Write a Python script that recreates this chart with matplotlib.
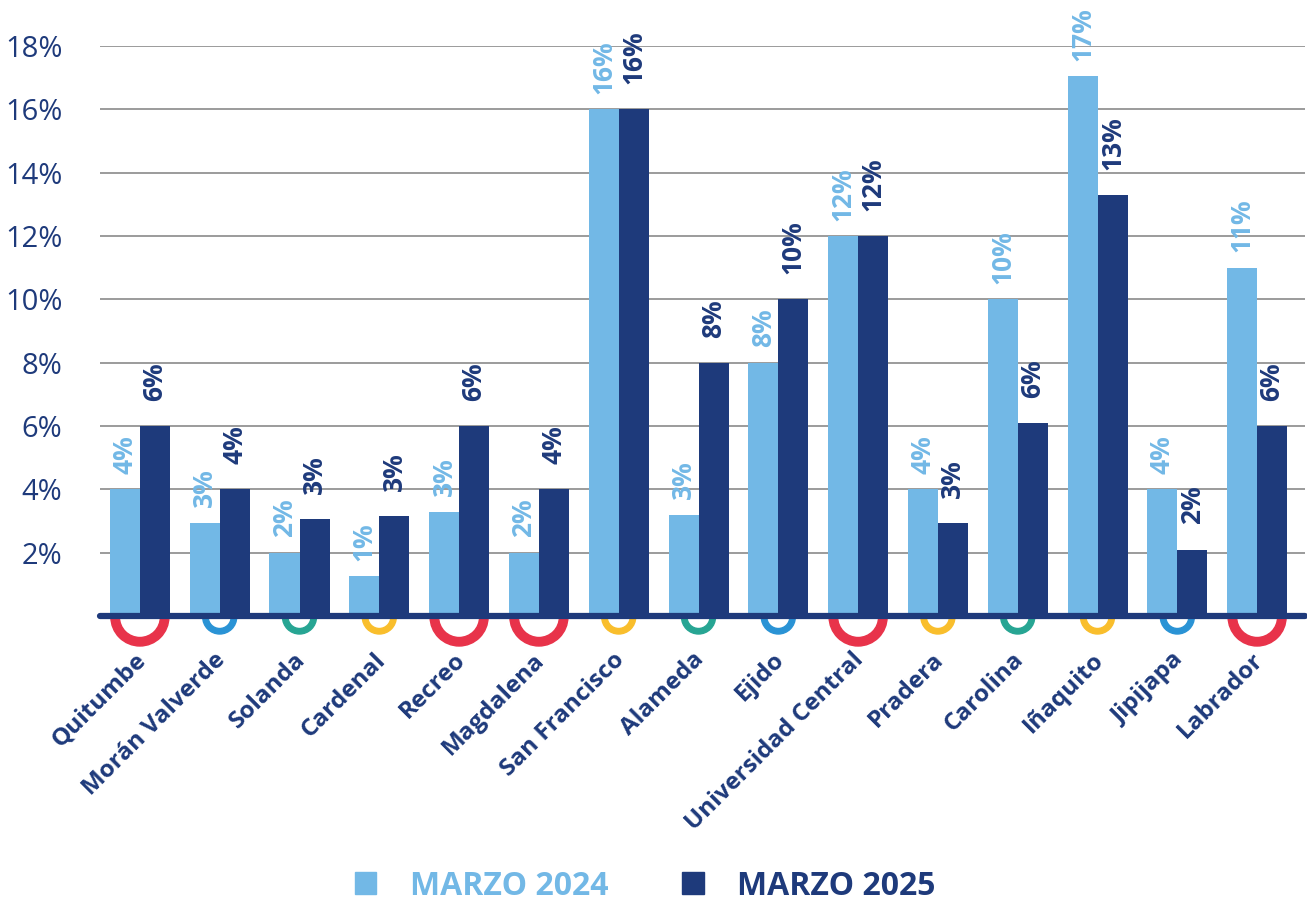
import matplotlib
matplotlib.use("Agg")
import matplotlib.pyplot as plt
import matplotlib.transforms as mtransforms
from matplotlib.patches import Wedge, Patch
import numpy as np

plt.rcParams["font.family"] = ["Open Sans", "DejaVu Sans"]

stations = ["Quitumbe", "Morán Valverde", "Solanda", "Cardenal", "Recreo",
            "Magdalena", "San Francisco", "Alameda", "Ejido", "Universidad Central",
            "Pradera", "Carolina", "Iñaquito", "Jipijapa", "Labrador"]
marzo_2024 = [4.0, 2.95, 2.0, 1.25, 3.3, 2.0, 16.0, 3.2, 8.0, 12.0, 4.0, 10.0, 17.05, 4.0, 11.0]
marzo_2025 = [6.0, 4.0, 3.05, 3.15, 6.0, 4.0, 16.0, 8.0, 10.0, 12.0, 2.95, 6.1, 13.3, 2.1, 6.0]
labels_2024 = ["4%", "3%", "2%", "1%", "3%", "2%", "16%", "3%", "8%", "12%", "4%", "10%", "17%", "4%", "11%"]
labels_2025 = ["6%", "4%", "3%", "3%", "6%", "4%", "16%", "8%", "10%", "12%", "3%", "6%", "13%", "2%", "6%"]
# metro line marker under each station (red = big ring)
rings = ["red", "blue", "teal", "yellow", "red", "red", "yellow", "teal", "blue",
         "red", "yellow", "teal", "yellow", "blue", "red"]
yticks = [2, 4, 6, 8, 10, 12, 14, 16, 18]

LIGHT = "#72b8e6"
DARK = "#1e3a7b"
RING_COLORS = {"red": "#e8334a", "blue": "#2a93d5", "teal": "#27a593", "yellow": "#f9be2c"}

fig = plt.figure(figsize=(13.07, 9.05), dpi=100)
ax = fig.add_axes([100 / 1307, 1 - 616 / 905, 1205 / 1307, 570 / 905])

x = np.arange(len(stations))
w = 0.376
ax.bar(x - w / 2, marzo_2024, w, color=LIGHT, zorder=2)
ax.bar(x + w / 2, marzo_2025, w, color=DARK, zorder=2)

for xi, v, lab in zip(x, marzo_2024, labels_2024):
    ax.annotate(lab, (xi - w / 2, v), xytext=(0, 11), textcoords="offset points",
                rotation=90, ha="center", va="bottom", color=LIGHT,
                fontsize=19, fontweight="bold", clip_on=False)
for xi, v, lab in zip(x, marzo_2025, labels_2025):
    ax.annotate(lab, (xi + w / 2, v), xytext=(0, 18), textcoords="offset points",
                rotation=90, ha="center", va="bottom", color=DARK,
                fontsize=19, fontweight="bold", clip_on=False)

ax.set_xlim(-0.5, 14.6)
ax.set_ylim(0, 18)
ax.set_yticks(yticks)
ax.set_yticklabels([f"{t}%" for t in yticks], fontsize=21, color=DARK)
ax.yaxis.grid(True, color="#8a8a8a", linewidth=1.2, zorder=0)
ax.tick_params(axis="y", length=0, pad=27)
ax.tick_params(axis="x", length=0, pad=23)
for s in ax.spines.values():
    s.set_visible(False)
ax.axhline(0, color=DARK, linewidth=4.5, solid_capstyle="round", zorder=3, clip_on=False)

ax.set_xticks(x)
ax.set_xticklabels(stations, rotation=45, ha="right", va="top", rotation_mode="anchor",
                   fontsize=17.5, fontweight="bold", color=DARK)
for t in ax.get_xticklabels():
    t.set_transform(t.get_transform() + mtransforms.ScaledTranslation(-0.06, 0, fig.dpi_scale_trans))

# half rings under the axis
for xi, key in zip(x, rings):
    big = key == "red"
    r = 0.29 if big else 0.17
    width = 0.085 if big else 0.055
    tr = fig.dpi_scale_trans + mtransforms.ScaledTranslation(xi, 0, ax.transData)
    ax.add_patch(Wedge((0, -0.01), r, 180, 360, width=width, color=RING_COLORS[key],
                       transform=tr, clip_on=False, zorder=1))

handles = [Patch(color=LIGHT), Patch(color=DARK)]
leg = fig.legend(handles, ["MARZO 2024", "MARZO 2025"], loc="center",
                 bbox_to_anchor=(645 / 1307, 1 - 886 / 905), ncol=2, frameon=False,
                 handlelength=0.68, handleheight=0.68, handletextpad=1.05, columnspacing=2.3,
                 prop={"size": 23, "weight": "bold"})
for txt, c in zip(leg.get_texts(), [LIGHT, DARK]):
    txt.set_color(c)

fig.savefig("out.png", dpi=100)
